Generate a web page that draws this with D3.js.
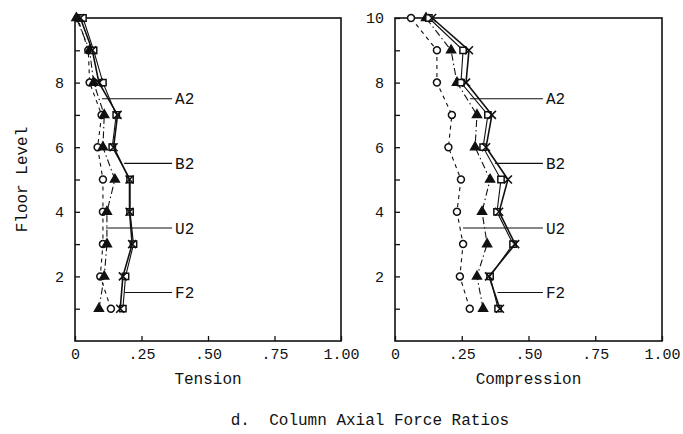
<!DOCTYPE html>
<html>
<head>
<meta charset="utf-8">
<script src="https://cdn.jsdelivr.net/npm/d3@7"></script>
<style>
  body { margin: 0; background: #fff; }
  svg text { font-family: "Liberation Mono", "DejaVu Sans Mono", monospace; fill: #111; }
</style>
</head>
<body>
<div id="chart"></div>
<script>
// Floor levels (y) and axial force ratios (x)
const floors = [1, 2, 3, 4, 5, 6, 7, 8, 9, 10];

const tensionU2 = [0.135, 0.095, 0.105, 0.105, 0.105, 0.085, 0.10, 0.055, 0.05, 0.01];
const tensionA2 = [0.09, 0.11, 0.12, 0.12, 0.15, 0.105, 0.11, 0.07, 0.055, 0.005];
const tensionB2 = [0.18, 0.19, 0.22, 0.207, 0.207, 0.14, 0.155, 0.105, 0.07, 0.03];
const tensionF2 = [0.17, 0.18, 0.215, 0.205, 0.205, 0.145, 0.16, 0.09, 0.065, 0.02];

const compressionU2 = [0.28, 0.243, 0.255, 0.232, 0.247, 0.20, 0.213, 0.157, 0.157, 0.06];
const compressionA2 = [0.33, 0.307, 0.345, 0.326, 0.356, 0.30, 0.307, 0.232, 0.21, 0.116];
const compressionB2 = [0.386, 0.356, 0.442, 0.382, 0.397, 0.33, 0.348, 0.247, 0.255, 0.127];
const compressionF2 = [0.393, 0.352, 0.45, 0.39, 0.423, 0.341, 0.363, 0.266, 0.277, 0.139];

const seriesNames = ["A2", "B2", "U2", "F2"];
const labelFloors = [7.5, 5.5, 3.5, 1.5];   // floor where each label's leader meets its curve
const xTicks = [0, 0.25, 0.5, 0.75, 1];
const xTickLabels = ["0", ".25", ".50", ".75", "1.00"];
const yLabelTicks = [2, 4, 6, 8, 10];

const width = 683, height = 434;
const plotTop = 18, plotBottom = 341;

const svg = d3.select("#chart").append("svg")
  .attr("width", width)
  .attr("height", height);

const y = d3.scaleLinear().domain([0, 10]).range([plotBottom, plotTop]);

// marker look and line dash per series
const style = {
  U2: { symbol: d3.symbolCircle, size: 38, fill: "#fff", dash: "4,4", lw: 1.1 },
  A2: { symbol: d3.symbolTriangle, size: 34, fill: "#111", dash: "7,3,1.5,3", lw: 1.1 },
  B2: { symbol: d3.symbolSquare, size: 40, fill: "#fff", dash: null, lw: 1.1 },
  F2: { symbol: "x", size: 4, fill: "none", dash: null, lw: 1.6 }
};

const panels = [
  { title: "Tension", left: 75, right: 341, leaderEnd: 0.365, showTen: false,
    data: { U2: tensionU2, A2: tensionA2, B2: tensionB2, F2: tensionF2 } },
  { title: "Compression", left: 395, right: 662, leaderEnd: 0.554, showTen: true,
    data: { U2: compressionU2, A2: compressionA2, B2: compressionB2, F2: compressionF2 } }
];

panels.forEach(p => {
  const x = d3.scaleLinear().domain([0, 1]).range([p.left, p.right]);
  const g = svg.append("g");

  // frame
  g.append("rect")
    .attr("x", p.left).attr("y", plotTop)
    .attr("width", p.right - p.left).attr("height", plotBottom - plotTop)
    .attr("fill", "none").attr("stroke", "#111").attr("stroke-width", 1.6);

  // bottom axis, ticks pointing inward
  const xa = g.append("g")
    .attr("transform", `translate(0,${plotBottom})`)
    .call(d3.axisBottom(x)
      .tickValues(xTicks)
      .tickFormat((d, i) => xTickLabels[i])
      .tickSize(-5)
      .tickPadding(7));
  xa.select(".domain").remove();
  xa.selectAll("line").attr("stroke", "#111").attr("stroke-width", 1.3);
  xa.selectAll("text").style("font-size", "15px").attr("fill", "#111");

  // left axis, a tick at every floor, labels on even floors
  const ya = g.append("g")
    .attr("transform", `translate(${p.left},0)`)
    .call(d3.axisLeft(y)
      .tickValues(floors)
      .tickFormat(d => (yLabelTicks.includes(d) && (d !== 10 || p.showTen)) ? d : "")
      .tickSize(-5)
      .tickPadding(11));
  ya.select(".domain").remove();
  ya.selectAll("line").attr("stroke", "#111").attr("stroke-width", 1.3);
  ya.selectAll("text").style("font-size", "15px").attr("fill", "#111");

  // series lines
  const line = d3.line()
    .x(d => x(d[0]))
    .y(d => y(d[1]));

  ["U2", "A2", "B2", "F2"].forEach(name => {
    const s = style[name];
    const pts = p.data[name].map((v, i) => [v, floors[i]]);
    g.append("path")
      .datum(pts)
      .attr("d", line)
      .attr("fill", "none")
      .attr("stroke", "#111")
      .attr("stroke-width", s.lw)
      .attr("stroke-dasharray", s.dash);

    if (s.symbol === "x") {
      g.selectAll(null)
        .data(pts)
        .join("path")
        .attr("d", d => {
          const cx = x(d[0]), cy = y(d[1]), r = s.size;
          return `M${cx - r},${cy - r}L${cx + r},${cy + r}M${cx - r},${cy + r}L${cx + r},${cy - r}`;
        })
        .attr("stroke", "#111")
        .attr("stroke-width", 1.6)
        .attr("fill", "none");
    } else {
      g.selectAll(null)
        .data(pts)
        .join("path")
        .attr("transform", d => `translate(${x(d[0])},${y(d[1])})`)
        .attr("d", d3.symbol().type(s.symbol).size(s.size))
        .attr("fill", s.fill)
        .attr("stroke", "#111")
        .attr("stroke-width", 1.5);
    }
  });

  // series labels with leader lines
  seriesNames.forEach((name, i) => {
    const f = labelFloors[i];
    const vals = p.data[name];
    const lo = Math.floor(f), t = f - lo;
    const v = vals[lo - 1] * (1 - t) + vals[lo] * t;
    g.append("line")
      .attr("x1", x(v) + 3).attr("x2", x(p.leaderEnd))
      .attr("y1", y(f)).attr("y2", y(f))
      .attr("stroke", "#111").attr("stroke-width", 1.1);
    g.append("text")
      .attr("x", x(p.leaderEnd) + 3)
      .attr("y", y(f))
      .attr("dy", "0.35em")
      .style("font-size", "16px")
      .text(name);
  });

  // axis title
  g.append("text")
    .attr("x", (p.left + p.right) / 2)
    .attr("y", 384)
    .attr("text-anchor", "middle")
    .style("font-size", "16px")
    .text(p.title);
});

// y axis title
svg.append("text")
  .attr("transform", `translate(27,${(plotTop + plotBottom) / 2}) rotate(-90)`)
  .attr("text-anchor", "middle")
  .style("font-size", "16px")
  .text("Floor Level");

// caption
svg.append("text")
  .attr("x", 370)
  .attr("y", 425)
  .attr("text-anchor", "middle")
  .attr("xml:space", "preserve")
  .style("white-space", "pre")
  .style("font-size", "16px")
  .text("d.  Column Axial Force Ratios");
</script>
</body>
</html>
